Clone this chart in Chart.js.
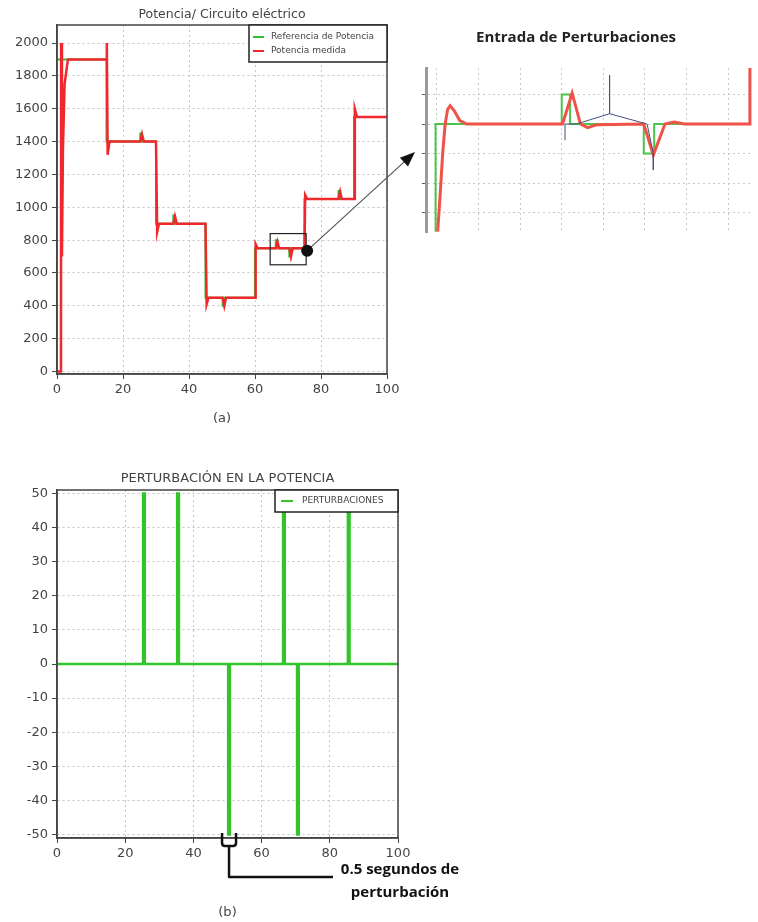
<!DOCTYPE html>
<html><head><meta charset="utf-8">
<script src="https://cdn.jsdelivr.net/npm/chart.js@4.4.1/dist/chart.umd.min.js"></script>
<style>
html,body{margin:0;padding:0;background:#fff;overflow:hidden;width:758px;height:922px;}
.box{position:absolute;}
canvas{display:block;}
</style></head><body>
<div class="box" style="left:0;top:0;"><canvas id="c1" width="420" height="432"></canvas></div>
<div class="box" style="left:400px;top:20px;"><canvas id="c2" width="400" height="240"></canvas></div>
<div class="box" style="left:0;top:460px;"><canvas id="c3" width="480" height="462"></canvas></div>
<script>
// ---------- DATA ----------
// (a) Potencia / Circuito eléctrico
const refTime  = [0,0,15,15,25.25,25.25,25.75,25.75,30,30,35.25,35.25,35.75,35.75,45,45,50.2,50.2,50.7,50.7,60,60,66.3,66.3,66.8,66.8,70.4,70.4,70.9,70.9,75,75,85.3,85.3,85.8,85.8,90,90,100];
const refPower = [0,1900,1900,1400,1400,1450,1450,1400,1400,900,900,950,950,900,900,450,450,400,400,450,450,750,750,800,800,750,750,700,700,750,750,1050,1050,1100,1100,1050,1050,1550,1550];
const measTime  = [0,1.2,1.25,1.5,1.8,2.3,3.3,15,15.1,15.35,15.9,25.25,25.75,26.3,30,30.1,30.35,30.9,35.25,35.75,36.3,45,45.1,45.35,45.9,50.2,50.7,51.2,60,60.2,60.8,66.3,66.8,67.3,70.4,70.9,71.4,75,75.2,75.8,85.3,85.8,86.3,90,90.25,90.9,100];
const measPower = [0,0,2000,700,1350,1750,1900,1900,2000,1320,1400,1400,1445,1400,1400,1400,850,900,900,945,900,900,900,410,450,450,400,450,450,775,750,750,790,750,750,700,750,750,1075,1050,1050,1095,1050,1050,1600,1550,1550];
// Entrada de Perturbaciones (detalle)
const insRefX  = [-0.03,-0.03,3.0,3.0,3.2,3.2,4.97,4.97,5.22,5.22,7.52];
const insRefY  = [-3.65,0,0,1.0,1.0,0,0,-1.0,-1.0,0,0];
const insMeasX = [0.02,0.08,0.14,0.2,0.26,0.32,0.42,0.55,0.72,3.02,3.25,3.45,3.62,3.85,4.97,5.2,5.48,5.7,5.95,7.52,7.52];
const insMeasY = [-3.65,-2.4,-1.0,0,0.5,0.62,0.45,0.12,0,0,1.05,0,-0.12,-0.02,0,-1.05,0,0.07,0,0,1.9];
const insAuxX  = [3.08,3.08,3.35,4.15,4.15,4.15,5.05,5.2,5.2];
const insAuxY  = [-0.55,0,0,0.35,1.66,0.35,0,-1.0,-1.56];
// (b) Perturbación en la potencia
const pertTime  = [0,25.25,25.25,25.75,25.75,35.25,35.25,35.75,35.75,50.2,50.2,50.7,50.7,66.3,66.3,66.8,66.8,70.4,70.4,70.9,70.9,85.3,85.3,85.8,85.8,100];
const pertValue = [0,0,50,50,0,0,50,50,0,0,-50,-50,0,0,50,50,0,0,-50,-50,0,0,50,50,0,0];
// ticks
const xTicks   = [0,20,40,60,80,100];
const yTicksA  = [0,200,400,600,800,1000,1200,1400,1600,1800,2000];
const yTicksB  = [-50,-40,-30,-20,-10,0,10,20,30,40,50];
const insXTicks = [0,1,2,3,4,5,6,7];
const insYTicks = [-3,-2,-1,0,1];

// ---------- HELPERS ----------
Chart.defaults.font.family = "'DejaVu Sans', sans-serif";
Chart.defaults.color = '#444';
Chart.defaults.animation = false;
const zip = (xs, ys) => xs.map((x, i) => ({x: x, y: ys[i]}));
const setTicks = arr => (s => { s.ticks = arr.map(v => ({value: v})); });
const plain = v => String(v);
const RED = '#f0282d', GREEN = '#2fbf2f';

const framePlugin = {
  id: 'frame',
  afterDatasetsDraw(chart) {
    const {left, top, right, bottom} = chart.chartArea;
    const ctx = chart.ctx;
    ctx.save(); ctx.strokeStyle = '#444'; ctx.lineWidth = 1.5;
    ctx.strokeRect(left, top, right - left, bottom - top);
    ctx.restore();
  }
};
function boxLegend(cfg) {
  return {
    id: 'boxLegend',
    afterDatasetsDraw(chart) {
      const ctx = chart.ctx, ca = chart.chartArea;
      const x = ca.right - cfg.w, y = ca.top;
      ctx.save();
      ctx.fillStyle = '#fff'; ctx.fillRect(x, y, cfg.w, cfg.h);
      ctx.strokeStyle = '#222'; ctx.lineWidth = 1.5; ctx.strokeRect(x, y, cfg.w, cfg.h);
      ctx.font = cfg.font; ctx.textBaseline = 'middle'; ctx.textAlign = 'left';
      chart.data.datasets.forEach((ds, i) => {
        const yy = y + cfg.first + i * cfg.step;
        ctx.strokeStyle = ds.borderColor; ctx.lineWidth = 2;
        ctx.beginPath(); ctx.moveTo(x + cfg.sx1, yy); ctx.lineTo(x + cfg.sx2, yy); ctx.stroke();
        ctx.fillStyle = '#444'; ctx.fillText(ds.label, x + cfg.tx, yy);
      });
      ctx.restore();
    }
  };
}
function gridOpts() {
  return {color: '#c4c4c4', lineWidth: 1, tickColor: '#444', tickLength: 5, tickWidth: 1};
}
function borderOpts() { return {display: true, color: '#444', width: 1.5, dash: [2, 3]}; }

// ---------- CHART (a) ----------
const zoomPlugin = {
  id: 'zoomMark',
  afterDraw(chart) {
    const ctx = chart.ctx, xs = chart.scales.x, ys = chart.scales.y;
    const x1 = xs.getPixelForValue(64.6), x2 = xs.getPixelForValue(75.5);
    const y1 = ys.getPixelForValue(840), y2 = ys.getPixelForValue(650);
    ctx.save();
    ctx.strokeStyle = '#222'; ctx.lineWidth = 1.2;
    ctx.strokeRect(x1, y1, x2 - x1, y2 - y1);
    const dx = xs.getPixelForValue(75.8), dy = ys.getPixelForValue(736);
    const ex = 415, ey = 152;
    ctx.strokeStyle = '#555'; ctx.lineWidth = 1.2;
    const ang = Math.atan2(ey - dy, ex - dx);
    ctx.beginPath(); ctx.moveTo(dx, dy);
    ctx.lineTo(ex - 12 * Math.cos(ang), ey - 12 * Math.sin(ang)); ctx.stroke();
    ctx.fillStyle = '#111';
    ctx.beginPath();
    ctx.moveTo(ex, ey);
    ctx.lineTo(ex - 15 * Math.cos(ang) + 6 * Math.sin(ang), ey - 15 * Math.sin(ang) - 6 * Math.cos(ang));
    ctx.lineTo(ex - 15 * Math.cos(ang) - 6 * Math.sin(ang), ey - 15 * Math.sin(ang) + 6 * Math.cos(ang));
    ctx.closePath(); ctx.fill();
    ctx.beginPath(); ctx.arc(dx, dy, 6, 0, Math.PI * 2); ctx.fill();
    ctx.restore();
  }
};
new Chart(document.getElementById('c1'), {
  type: 'line',
  data: {datasets: [
    {label: 'Referencia de Potencia', data: zip(refTime, refPower), borderColor: GREEN, borderWidth: 2, pointRadius: 0, order: 2},
    {label: 'Potencia medida', data: zip(measTime, measPower), borderColor: RED, borderWidth: 2.5, pointRadius: 0, order: 1}
  ]},
  options: {
    responsive: false,
    layout: {padding: {left: 0, right: 33, top: 0, bottom: 0}},
    plugins: {
      legend: {display: false}, tooltip: {enabled: false},
      title: {display: true, text: 'Potencia/ Circuito eléctrico', fullSize: false, color: '#444',
              font: {size: 12.5, weight: 'normal'}, padding: {top: 7.5, bottom: 2.5}}
    },
    scales: {
      x: {type: 'linear', min: 0, max: 100, afterBuildTicks: setTicks(xTicks),
          afterFit: s => { s.height = 58; },
          grid: gridOpts(), border: borderOpts(),
          ticks: {font: {size: 13}, padding: 3, color: '#444', maxRotation: 0, callback: plain},
          title: {display: true, text: '(a)', font: {size: 13}, color: '#444', padding: {top: 4, bottom: 6}}},
      y: {type: 'linear', min: -15, max: 2110, afterBuildTicks: setTicks(yTicksA),
          afterFit: s => { s.width = 57; },
          grid: gridOpts(), border: borderOpts(),
          ticks: {font: {size: 13}, padding: 4, color: '#444', callback: plain}}
    }
  },
  plugins: [framePlugin, boxLegend({w: 138, h: 37, first: 12, step: 14, sx1: 4, sx2: 15, tx: 22, font: "9px 'DejaVu Sans'"}), zoomPlugin]
});

// ---------- INSET ----------
new Chart(document.getElementById('c2'), {
  type: 'line',
  data: {datasets: [
    {label: 'Referencia', data: zip(insRefX, insRefY), borderColor: '#4cc44c', borderWidth: 2, pointRadius: 0, order: 3},
    {label: 'Medida', data: zip(insMeasX, insMeasY), borderColor: '#f05248', borderWidth: 3, pointRadius: 0, order: 2},
    {label: 'Auxiliar', data: zip(insAuxX, insAuxY), borderColor: '#44507a', borderWidth: 1, pointRadius: 0, order: 1}
  ]},
  options: {
    responsive: false,
    layout: {padding: {left: 0, right: 48, top: 0, bottom: 0}},
    plugins: {
      legend: {display: false}, tooltip: {enabled: false},
      title: {display: true, text: 'Entrada de Perturbaciones', color: '#222',
              font: {family: "'Open Sans', sans-serif", size: 15, weight: 'bold'}, padding: {top: 9, bottom: 21}}
    },
    scales: {
      x: {type: 'linear', min: -0.26, max: 7.57, afterBuildTicks: setTicks(insXTicks),
          afterFit: s => { s.height = 28; },
          grid: {color: '#c8c8c8', drawTicks: false}, border: {display: false, dash: [2, 3]},
          ticks: {display: false}},
      y: {type: 'linear', min: -3.66, max: 1.9, afterBuildTicks: setTicks(insYTicks),
          afterFit: s => { s.width = 26; },
          grid: {color: '#c8c8c8', tickColor: '#555', tickLength: 4}, border: {display: true, color: '#9a9a9a', width: 3, dash: [2, 3]},
          ticks: {display: false}}
    }
  }
});

// ---------- CHART (b) ----------
const bracketPlugin = {
  id: 'bracket',
  afterDraw(chart) {
    const ctx = chart.ctx, xs = chart.scales.x, b = chart.chartArea.bottom;
    const c = xs.getPixelForValue((pertTime[9] + pertTime[11]) / 2);
    ctx.save();
    ctx.strokeStyle = '#111'; ctx.lineWidth = 2.5; ctx.lineJoin = 'round';
    ctx.beginPath();
    ctx.moveTo(c - 7, b - 5); ctx.lineTo(c - 7, b + 5);
    ctx.quadraticCurveTo(c - 7, b + 8, c - 4, b + 8);
    ctx.lineTo(c + 4, b + 8);
    ctx.quadraticCurveTo(c + 7, b + 8, c + 7, b + 5);
    ctx.lineTo(c + 7, b - 5);
    ctx.stroke();
    ctx.beginPath(); ctx.moveTo(c, b + 8); ctx.lineTo(c, b + 39); ctx.lineTo(333, b + 39); ctx.stroke();
    ctx.fillStyle = '#111';
    ctx.font = "bold 15px 'Open Sans', sans-serif";
    ctx.textAlign = 'center'; ctx.textBaseline = 'middle';
    ctx.fillText('0.5 segundos de', 400, b + 32);
    ctx.fillText('perturbación', 400, b + 55);
    ctx.restore();
  }
};
new Chart(document.getElementById('c3'), {
  type: 'line',
  data: {datasets: [
    {label: 'PERTURBACIONES', data: zip(pertTime, pertValue), borderColor: '#33c42a', borderWidth: 2.5, pointRadius: 0}
  ]},
  options: {
    responsive: false,
    layout: {padding: {left: 0, right: 82, top: 0, bottom: 0}},
    plugins: {
      legend: {display: false}, tooltip: {enabled: false},
      title: {display: true, text: 'PERTURBACIÓN EN LA POTENCIA', fullSize: false, color: '#444',
              font: {size: 13, weight: 'normal'}, padding: {top: 11.2, bottom: 3.2}}
    },
    scales: {
      x: {type: 'linear', min: 0, max: 100, afterBuildTicks: setTicks(xTicks),
          afterFit: s => { s.height = 84; },
          grid: gridOpts(), border: borderOpts(),
          ticks: {font: {size: 13}, padding: 3, color: '#444', maxRotation: 0, callback: plain},
          title: {display: true, text: '(b)', font: {size: 13}, color: '#444', padding: {top: 4, bottom: 2}}},
      y: {type: 'linear', min: -51, max: 51, afterBuildTicks: setTicks(yTicksB),
          afterFit: s => { s.width = 57; },
          grid: gridOpts(), border: borderOpts(),
          ticks: {font: {size: 13}, padding: 4, color: '#444', callback: plain}}
    }
  },
  plugins: [framePlugin, boxLegend({w: 123, h: 22, first: 11, step: 14, sx1: 6, sx2: 18, tx: 27, font: "9px 'DejaVu Sans'"}), bracketPlugin]
});
</script>
</body></html>
